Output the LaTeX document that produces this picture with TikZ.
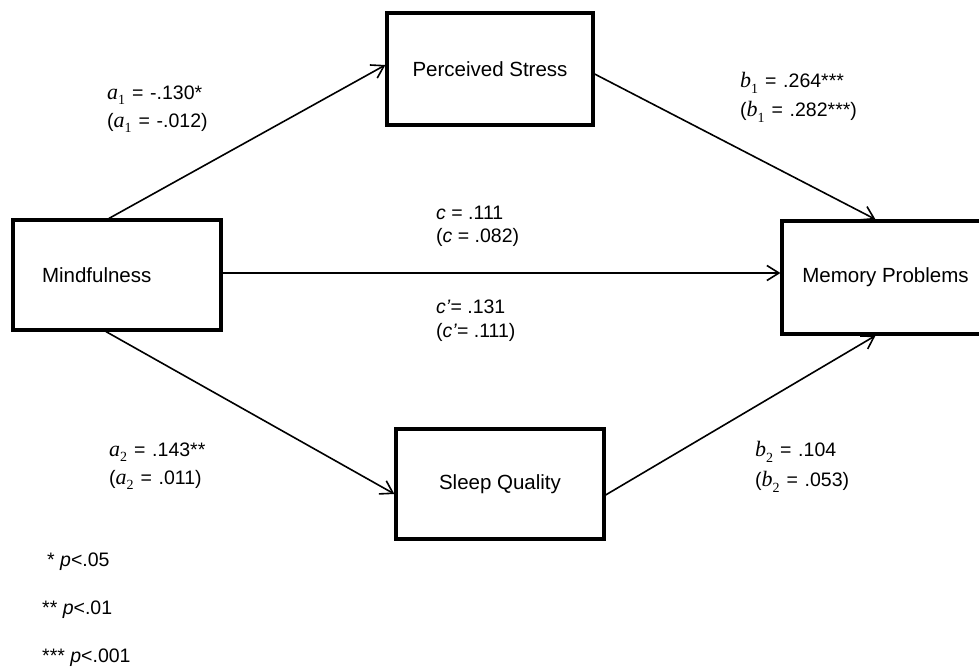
\documentclass[tikz,border=0pt]{standalone}
\usepackage{fontspec}
\setmainfont{Liberation Sans}
\newfontfamily\varfont{Liberation Serif}
\usetikzlibrary{arrows.meta,calc}
\tikzset{
  varbox/.style={draw, line width=3.2pt, minimum height=110pt, inner sep=0pt, font=\fontsize{20.5}{24}\selectfont},
  conn/.style={line width=1.6pt, -{Straight Barb[length=12pt,width=15pt,line width=1.6pt]}},
  lbl/.style={anchor=west, inner sep=0pt, font=\fontsize{19.5}{23}\selectfont},
}
\newcommand{\eqsp}{\hspace{0.35em}=\hspace{0.35em}}
\newcommand{\pvar}[2]{{\varfont\itshape\fontsize{22}{23}\selectfont #1}\raisebox{-0.28em}{\varfont\fontsize{14}{14}\selectfont #2}}
\begin{document}
\begin{tikzpicture}[x=1pt,y=-1pt]
\useasboundingbox (0,0) rectangle (979,668);
\node[varbox, minimum width=206pt, minimum height=112pt] (ps) at (490,69) {Perceived Stress};
\node[varbox, minimum height=110pt, text width=150pt, inner xsep=29pt, align=left] (mf) at (117,275) {Mindfulness};
\node[varbox, minimum width=207pt, minimum height=113pt] (mp) at (885.5,277.5) {Memory Problems};
\node[varbox, minimum width=208pt, minimum height=110pt] (sq) at (500,484) {Sleep Quality};

\draw[conn] ([xshift=-8pt]mf.north) -- ([yshift=4pt]ps.west);
\draw[conn] ([yshift=-5pt]ps.east) -- ([xshift=-10pt]mp.north);
\draw[conn] ([yshift=2pt]mf.east) -- ([yshift=2pt]mf.east -| mp.west);
\draw[conn] ([xshift=-11pt]mf.south) -- ([yshift=-10pt]sq.west);
\draw[conn] ([yshift=-11pt]sq.east) -- ([xshift=-10pt]mp.south);

\node[lbl] (la1) at (107,95) {\pvar{a}{1}\eqsp-.130*};
\node[lbl] (la1b) at (107,123) {(\pvar{a}{1}\eqsp-.012)};
\node[lbl] (lb1) at (740,83) {\pvar{b}{1}\eqsp.264***};
\node[lbl] (lb1b) at (740,112) {(\pvar{b}{1}\eqsp.282***)};
\node[lbl] (lc) at (436,213) {\textit{c} = .111};
\node[lbl] (lcb) at (436,237) {(\textit{c} = .082)};
\node[lbl] (lcp) at (436,307) {\textit{c’}= .131};
\node[lbl] (lcpb) at (436,332) {(\textit{c’}= .111)};
\node[lbl] (la2) at (109,452) {\pvar{a}{2}\eqsp.143**};
\node[lbl] (la2b) at (109,480) {(\pvar{a}{2}\eqsp.011)};
\node[lbl] (lb2) at (755,452) {\pvar{b}{2}\eqsp.104};
\node[lbl] (lb2b) at (755,482) {(\pvar{b}{2}\eqsp.053)};
\node[lbl] (f1) at (47,562) {* \textit{p}<.05};
\node[lbl] (f2) at (42,610) {** \textit{p}<.01};
\node[lbl] (f3) at (42,658) {*** \textit{p}<.001};
\end{tikzpicture}
\end{document}
